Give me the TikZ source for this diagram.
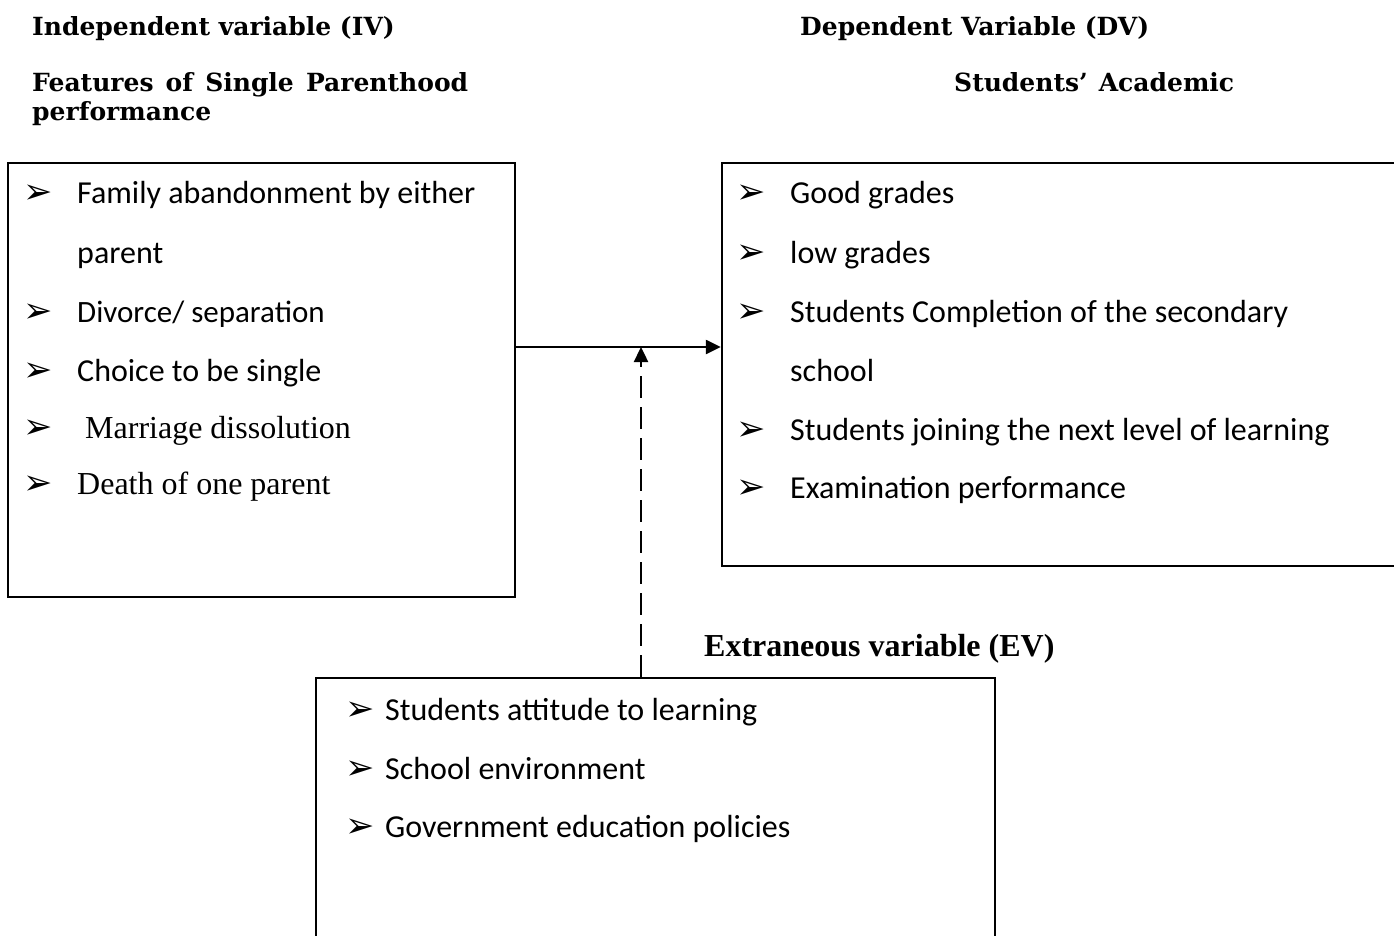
\documentclass[tikz,border=0pt]{standalone}
\usepackage{fontspec}
\setmainfont{Carlito}
\newfontfamily\hdrfont{DejaVu Serif}
\newfontfamily\tnrfont{Liberation Serif}
\newfontfamily\symfont{DejaVu Sans}
\usetikzlibrary{arrows.meta}
\tikzset{
  frame/.style={draw=black, line width=2.4pt, inner sep=0pt, fill=none},
  item/.style={anchor=base west, inner sep=0pt, font=\fontsize{32}{38}\selectfont},
  seritem/.style={anchor=base west, inner sep=0pt, font=\tnrfont\fontsize{32}{38}\selectfont},
  bul/.style={anchor=base west, inner sep=0pt, font=\symfont\fontsize{35}{40}\selectfont},
  hdr/.style={anchor=base west, inner sep=0pt, font=\hdrfont\bfseries\fontsize{25}{28}\selectfont},
  link/.style={line width=2.4pt, -{Triangle[length=15pt,width=14pt]}},
}
\begin{document}
\begin{tikzpicture}[x=1pt,y=-1pt]
\useasboundingbox (0,0) rectangle (1394,936);
\clip (0,0) rectangle (1394,936);

% headings
\node[hdr] (hiv) at (32,36) {Independent variable (IV)};
\node[hdr] (hdv) at (800,36) {Dependent Variable (DV)};
\node[hdr] (hfeat) at (32,92) {\hbox to 436pt{Features\hfill of\hfill Single\hfill Parenthood}};
\node[hdr] (hperf) at (32,121) {performance};
\node[hdr] (hacad) at (954,92) {\hbox to 280pt{Students’\hfill Academic}};
\node[anchor=base west, inner sep=0pt, font=\tnrfont\bfseries\fontsize{32}{38}\selectfont] (hev) at (704,656) {Extraneous variable (EV)};

% boxes
\node[frame, minimum width=507pt, minimum height=434pt] (iv) at (261.5,380) {};
\node[frame, minimum width=690pt, minimum height=403pt] (dv) at (1067,364.5) {};
\node[frame, minimum width=679pt, minimum height=340pt] (ev) at (655.5,848) {};

% independent variable items
\node[bul] (b1) at (23,204) {➢};
\node[item] (t1) at (77,204) {Family abandonment by either};
\node[item] (t1b) at (77,263) {parent};
\node[bul] (b2) at (23,322) {➢};
\node[item] (t2) at (77,322) {\fontsize{31}{36}\selectfont Divorce/ separation};
\node[bul] (b3) at (23,381) {➢};
\node[item] (t3) at (77,381) {Choice to be single};
\node[bul] (b4) at (23,438) {➢};
\node[seritem] (t4) at (85,438) {Marriage dissolution};
\node[bul] (b5) at (23,494) {➢};
\node[seritem] (t5) at (77,494) {Death of one parent};

% dependent variable items
\node[bul] (d1) at (736,204) {➢};
\node[item] (u1) at (790,204) {Good grades};
\node[bul] (d2) at (736,263) {➢};
\node[item] (u2) at (790,263) {low grades};
\node[bul] (d3) at (736,322) {➢};
\node[item] (u3) at (790,322) {Students Completion of the secondary};
\node[item] (u3b) at (790,381) {school};
\node[bul] (d4) at (736,440) {➢};
\node[item] (u4) at (790,440) {Students joining the next level of learning};
\node[bul] (d5) at (736,498) {➢};
\node[item] (u5) at (790,498) {Examination performance};

% extraneous variable items
\node[bul] (e1) at (345,720) {➢};
\node[item] (v1) at (385,720) {Students attitude to learning};
\node[bul] (e2) at (345,779) {➢};
\node[item] (v2) at (385,779) {School environment};
\node[bul] (e3) at (345,837) {➢};
\node[item] (v3) at (385,837) {Government education policies};

% connectors
\coordinate (j) at (641,347);
\draw[link] (iv.east |- j) -- (dv.west |- j);
\draw[link, dash pattern=on 22pt off 9pt] (ev.north -| j) -- (j);
\end{tikzpicture}
\end{document}
